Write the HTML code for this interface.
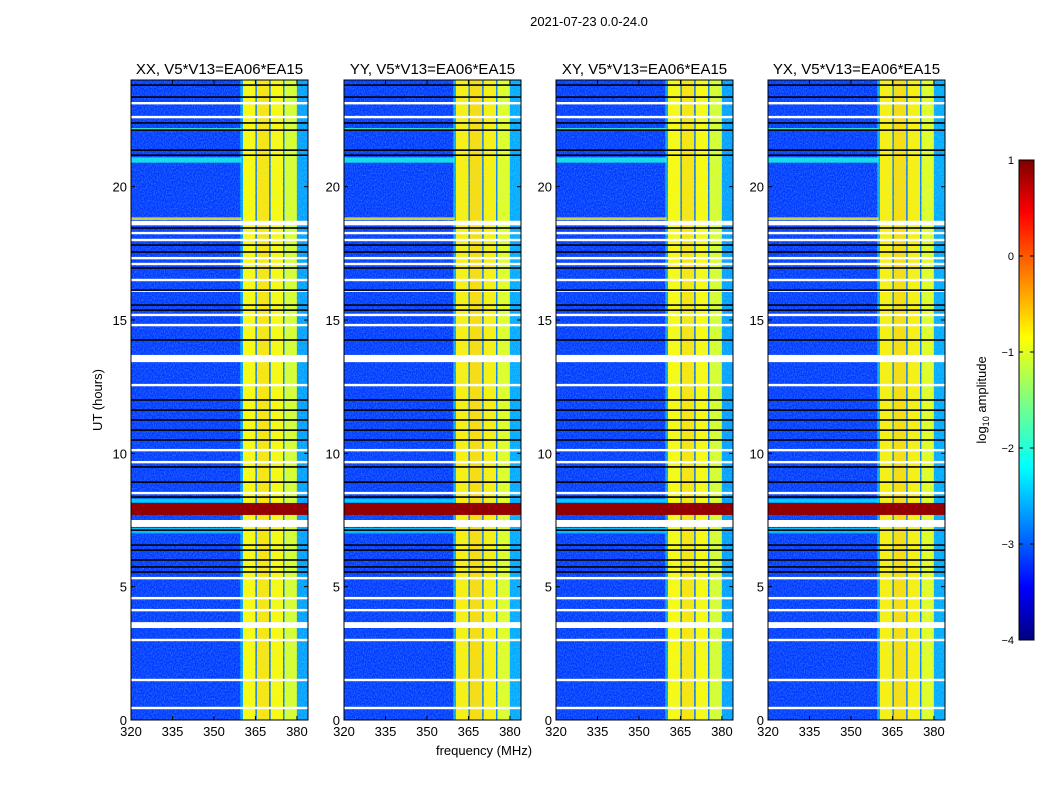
<!DOCTYPE html>
<html><head><meta charset="utf-8"><style>
body{margin:0;background:#fff;font-family:"Liberation Sans",sans-serif}
svg text{font-family:"Liberation Sans",sans-serif}
</style></head><body>
<svg id="c" width="1050" height="800" viewBox="0 0 1050 800">
<defs>
<filter id="noise" x="0" y="0" width="1" height="1">
<feTurbulence type="fractalNoise" baseFrequency="0.9 0.6" numOctaves="2" seed="3"/>
<feColorMatrix type="matrix" values="0 0 0 0 0.3  0 0 0 0 0.9  0 0 0 0 1  0 0 0 1.1 -0.4"/>
<feComposite in2="SourceGraphic" operator="in"/>
</filter>
<linearGradient id="jet" x1="0" y1="1" x2="0" y2="0">
<stop offset="0" stop-color="#00007f"/><stop offset="0.11" stop-color="#0000ff"/>
<stop offset="0.36" stop-color="#00ffff"/><stop offset="0.5" stop-color="#7fff7f"/>
<stop offset="0.63" stop-color="#ffff00"/><stop offset="0.89" stop-color="#ff0000"/>
<stop offset="1" stop-color="#7f0000"/></linearGradient>
</defs>
<text x="589" y="26" font-size="13" text-anchor="middle">2021-07-23 0.0-24.0</text>
<g id="panels"></g>
<text x="484" y="755" font-size="13" text-anchor="middle">frequency (MHz)</text>
<text transform="translate(102,400) rotate(-90)" font-size="13" text-anchor="middle">UT (hours)</text>
<g>
<rect x="1019" y="160" width="15" height="480" fill="url(#jet)" stroke="#000" stroke-width="1"/>
<g id="cbt"></g>
<text transform="translate(986,400) rotate(-90)" font-size="13" text-anchor="middle">log<tspan font-size="9" dy="3">10</tspan><tspan dy="-3"> amplitude</tspan></text>
</g>
</svg>
<script>
const panelTitles=["XX, V5*V13=EA06*EA15","YY, V5*V13=EA06*EA15","XY, V5*V13=EA06*EA15","YX, V5*V13=EA06*EA15"];
const panelX=[131,344,556,768];
const xTicks=[320,335,350,365,380];
const yTicks=[0,5,10,15,20];
const cbTicks=[1,0,-1,-2,-3,-4];
const bgLevel=-3.1;
const colStart=[359.5,360.5,365,365.5,370,370.5,375,375.5,380];
const colEnd=[360.5,365,365.5,370,370.5,375,375.5,380,384];
const colLevel=[-2.6,-0.85,-2.8,-0.75,-2.8,-0.85,-2.8,-1.05,-2.6];
const panelShift=[0,0.05,0,0.05];
const cyanRows=[[20.9,21.1,-2.0],[7.0,7.2,-2.3],[8.15,8.3,-2.2],[22.1,22.2,-1.8],[18.75,18.85,-0.8]];
const redStart=7.69, redEnd=8.14, redLevel=0.9;
const whiteThin=[23.13,22.61,18.26,18.0,17.32,17.1,16.5,16.1,15.19,14.81,12.56,10.12,9.67,8.51,5.32,4.57,4.12,3.0,1.5,0.45];
const whiteThick=[[18.55,18.72],[13.42,13.69],[7.24,7.5],[3.45,3.67]];
const blackLines=[23.81,23.36,22.39,22.12,21.37,21.18,18.45,17.81,17.55,16.95,16.12,15.56,15.37,14.25,12.0,11.62,11.25,10.87,10.5,9.49,8.92,8.36,7.12,6.56,6.37,6.0,5.74,5.55];
const NS="http://www.w3.org/2000/svg";
const W=177,H=640,Y0=80,F0=320,F1=384,T1=24;
function jet(v){let t=Math.max(0,Math.min(1,(v+4)/5));const c=x=>Math.round(255*Math.max(0,Math.min(1,1.5-Math.abs(4*t-x))));return `rgb(${c(3)},${c(2)},${c(1)})`;}
function mk(tag,a,parent){const e=document.createElementNS(NS,tag);for(const k in a)e.setAttribute(k,a[k]);parent.appendChild(e);return e;}
const root=document.getElementById('panels');
panelX.forEach((px,pi)=>{
 const xs=f=>px+(f-F0)/(F1-F0)*W;
 const ys=h=>Y0+H-(h/T1)*H;
 const g=mk('g',{},root);
 
 
 const t=mk('text',{x:px+W/2,y:74,'font-size':15,'text-anchor':'middle'},g);t.textContent=panelTitles[pi];
 
 
 const bg=mk('rect',{x:px,y:Y0,width:W,height:H,fill:jet(bgLevel)},g);
 
 
 colStart.forEach((s,i)=>{const r=mk('rect',{x:xs(s),y:Y0,width:xs(colEnd[i])-xs(s),height:H,fill:jet(colLevel[i]+panelShift[pi])},g);
  
  });
 mk('rect',{x:px,y:Y0,width:W,height:H,fill:'#fff',filter:'url(#noise)',opacity:0.6},g);
 cyanRows.forEach(c=>{const r=mk('rect',{x:px,y:ys(c[1]),width:xs(360)-px,height:ys(c[0])-ys(c[1]),fill:jet(c[2]),opacity:0.8},g);
  
  });
 const rb=mk('rect',{x:px,y:ys(redEnd),width:W,height:ys(redStart)-ys(redEnd),fill:jet(redLevel)},g);
 
 
 whiteThin.forEach(h=>{const r=mk('rect',{x:px,y:ys(h)-1.2,width:W,height:2.4,fill:'#fff'},g);
  
  });
 whiteThick.forEach(w=>{const r=mk('rect',{x:px,y:ys(w[1]),width:W,height:ys(w[0])-ys(w[1]),fill:'#fff'},g);
  
  });
 blackLines.forEach(h=>{const r=mk('rect',{x:px,y:ys(h)-0.8,width:W,height:1.6,fill:'#000'},g);
  
  });
 mk('rect',{x:px,y:Y0,width:W,height:H,fill:'none',stroke:'#000','stroke-width':1},g);
 xTicks.forEach(f=>{const x=xs(f);mk('line',{x1:x,x2:x,y1:Y0+H,y2:Y0+H-4,stroke:'#000'},g);mk('line',{x1:x,x2:x,y1:Y0,y2:Y0+4,stroke:'#000'},g);
  const l=mk('text',{x:x,y:Y0+H+16,'font-size':13,'text-anchor':'middle'},g);l.textContent=f;
  
  });
 yTicks.forEach(h=>{const y=ys(h);mk('line',{x1:px,x2:px+4,y1:y,y2:y,stroke:'#000'},g);mk('line',{x1:px+W,x2:px+W-4,y1:y,y2:y,stroke:'#000'},g);
  const l=mk('text',{x:px-4,y:y+5,'font-size':13,'text-anchor':'end'},g);l.textContent=h;
  
  });
});
const cbt=document.getElementById('cbt');
cbTicks.forEach(v=>{const y=160+(1-v)/5*480;mk('line',{x1:1019,x2:1023,y1:y,y2:y,stroke:'#000'},cbt);mk('line',{x1:1034,x2:1030,y1:y,y2:y,stroke:'#000'},cbt);
 const l=mk('text',{x:1014,y:y+4,'font-size':11,'text-anchor':'end'},cbt);l.textContent=v<0?'\u2212'+(-v):v;
 
 });
</script>
</body></html>
